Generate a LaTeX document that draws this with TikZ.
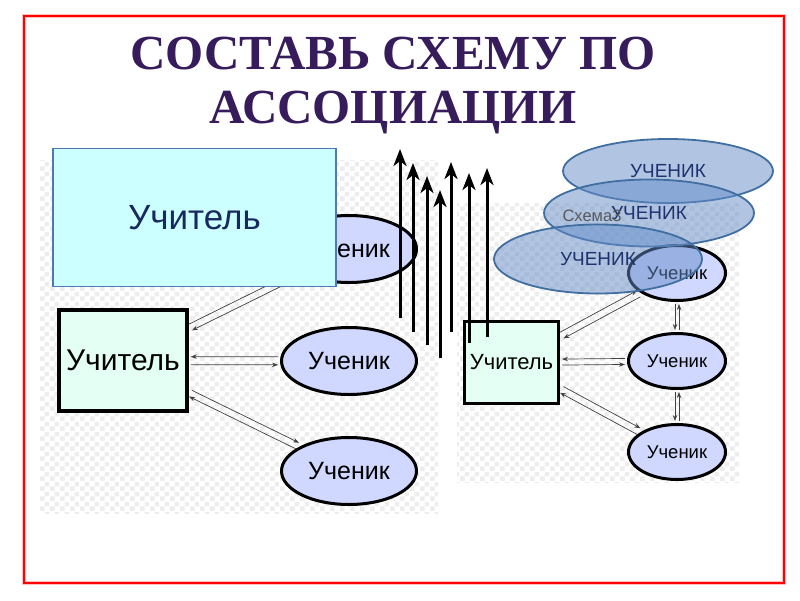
\documentclass[tikz,border=0pt]{standalone}
\usepackage{fontspec}
\setmainfont{Liberation Sans}
\newfontfamily\titlefont{Liberation Serif}
\usetikzlibrary{arrows.meta,shapes.geometric,patterns.meta}

\definecolor{titleviolet}{RGB}{55,28,92}
\definecolor{cyanfill}{RGB}{204,255,255}
\definecolor{cyanline}{RGB}{80,120,180}
\definecolor{navytext}{RGB}{25,40,95}
\definecolor{mintfill}{RGB}{228,255,244}
\definecolor{pupilfill}{RGB}{208,216,255}
\definecolor{bubblefill}{RGB}{100,140,200}
\definecolor{bubbleline}{RGB}{65,110,160}
\definecolor{bubbletext}{RGB}{30,50,110}

\tikzdeclarepattern{
  name=checks,
  type=uncolored,
  bottom left={(0pt,0pt)},
  top right={(10pt,10pt)},
  tile size={(10pt,10pt)},
  code={
    \fill (0pt,0pt) rectangle (5pt,5pt);
    \fill (5pt,5pt) rectangle (10pt,10pt);
  }
}

\def\bigsize{\fontsize{35}{35}\selectfont}
\def\midsize{\fontsize{30}{30}\selectfont}
\def\pupsize{\fontsize{25}{25}\selectfont}
\def\smallsize{\fontsize{18.5}{18.5}\selectfont}

\begin{document}
\begin{tikzpicture}[x=1pt,y=-1pt,>={Stealth[length=6pt,width=4.5pt]}]
    \tikzstyle{title}=[anchor=base,text=titleviolet,inner sep=0pt,font=\titlefont\bfseries\fontsize{49}{49}\selectfont]
    \tikzstyle{teacher}=[rectangle,draw=black,line width=3.5pt,fill=mintfill,inner sep=0pt]
    \tikzstyle{pupil}=[ellipse,draw=black,line width=3pt,fill=pupilfill,inner sep=0pt]
    \tikzstyle{link}=[draw=black!75,line width=0.7pt,shorten >=2pt,shorten <=2pt]
    \tikzstyle{bubble}=[ellipse,draw=bubbleline,line width=1.8pt,fill=bubblefill,fill opacity=0.5,text opacity=1,text=bubbletext,inner sep=0pt,font=\fontsize{19}{19}\selectfont]
    \tikzstyle{uparrow}=[line width=3pt,-{Stealth[length=17pt,width=13pt,inset=5pt]}]
    \tikzstyle{backdrop}=[pattern=checks,pattern color=black!7]

    \useasboundingbox (0,0) rectangle (800,600);
    \draw[red!25,line width=4.5pt] (24,16) rectangle (784,583);
    \draw[red,line width=2pt] (24,16) rectangle (784,583);

    \node[title] (head1) at (393,69) {СОСТАВЬ СХЕМУ ПО};
    \node[title] (head2) at (393,123) {АССОЦИАЦИИ};

    \fill[backdrop] (40,160) rectangle (438,513);
    \fill[backdrop] (457,203) rectangle (740,482);

    % first scheme
    \node[pupil,minimum width=135,minimum height=67] (s1) at (349,249) {\pupsize Ученик};
    \node[pupil,minimum width=135,minimum height=67] (s2) at (349,361) {\pupsize Ученик};
    \node[pupil,minimum width=135,minimum height=67] (s3) at (349,471) {\pupsize Ученик};
    \node[teacher,minimum width=128,minimum height=101] (t2) at (123,360.5) {\midsize Учитель};

    \draw[link,->,transform canvas={shift={(-1.5,-3.1)}}] (t2) -- (s1);
    \draw[link,<-,transform canvas={shift={(1.5,3.1)}}] (t2) -- (s1);
    \draw[link,<-,transform canvas={shift={(0,-4)}}] (t2) -- (s2);
    \draw[link,->,transform canvas={shift={(0,4)}}] (t2) -- (s2);
    \draw[link,->,transform canvas={shift={(1.5,-3.1)}}] (t2) -- (s3);
    \draw[link,<-,transform canvas={shift={(-1.5,3.1)}}] (t2) -- (s3);

    \node[draw=cyanline,line width=1.2pt,fill=cyanfill,text=navytext,minimum width=283,minimum height=138] (t1) at (194.5,217.5) {\bigsize Учитель};

    % second scheme
    \node[pupil,minimum width=97,minimum height=55] (r1) at (677,273) {\smallsize Ученик};
    \node[pupil,minimum width=97,minimum height=55] (r2) at (677,361) {\smallsize Ученик};
    \node[pupil,minimum width=97,minimum height=55] (r3) at (677,452) {\smallsize Ученик};
    \node[teacher,line width=3pt,minimum width=94,minimum height=82] (r0) at (511.5,362.5) {\fontsize{22}{22}\selectfont Учитель};

    \draw[link,->,transform canvas={shift={(-1.7,-3.1)}}] (r0) -- (r1);
    \draw[link,<-,transform canvas={shift={(1.7,3.1)}}] (r0) -- (r1);
    \draw[link,<-,transform canvas={shift={(0,-3)}}] (r0) -- (r2);
    \draw[link,->,transform canvas={shift={(0,3)}}] (r0) -- (r2);
    \draw[link,->,transform canvas={shift={(1.7,-3.1)}}] (r0) -- (r3);
    \draw[link,<-,transform canvas={shift={(-1.7,3.1)}}] (r0) -- (r3);
    \draw[link,->,transform canvas={shift={(-2,0)}}] (r1) -- (r2);
    \draw[link,<-,transform canvas={shift={(2,0)}}] (r1) -- (r2);
    \draw[link,->,transform canvas={shift={(-2,0)}}] (r2) -- (r3);
    \draw[link,<-,transform canvas={shift={(2,0)}}] (r2) -- (r3);

    % arrows up
    \foreach \n/\x/\hi/\lo in {1/400/149/318,2/413/163/332,3/427/176/345,4/440/190/358,5/451/162/332,6/469/173/343,7/487/168/337} {
        \coordinate (foot\n) at (\x,\lo);
        \coordinate (tip\n) at (\x,\hi);
        \draw[uparrow] (foot\n) -- (tip\n);
    }

    % overlapping bubbles
    \node[bubble,minimum width=210,minimum height=64] (b1) at (668,171) {УЧЕНИК};
    \node[bubble,minimum width=210,minimum height=67] (b2) at (649,213) {УЧЕНИК};
    \node[text=black!65,inner sep=0pt,font=\fontsize{16.5}{16.5}\selectfont] (label3) at (592,216) {Схема3};
    \node[bubble,minimum width=208,minimum height=69] (b3) at (598,259) {УЧЕНИК};
\end{tikzpicture}
\end{document}
